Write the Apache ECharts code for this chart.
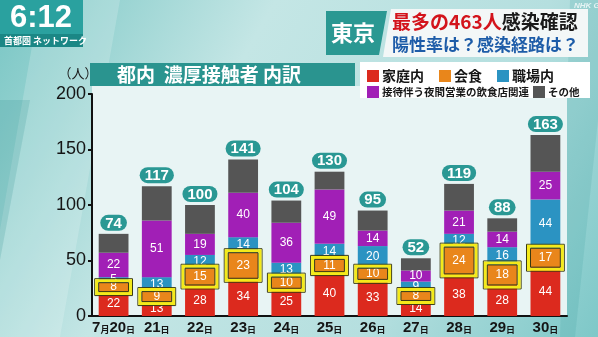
<!DOCTYPE html>
<html>
<head>
<meta charset="utf-8">
<script src="https://cdn.jsdelivr.net/npm/echarts@6/dist/echarts.min.js"></script>
<style>
  html, body { margin: 0; padding: 0; }
  #chart { width: 598px; height: 337px; }
</style>
</head>
<body>
<div id="chart"></div>
<script>
// 都内 濃厚接触者 内訳（7月20日〜30日）
const days = ['7月20日', '21日', '22日', '23日', '24日', '25日', '26日', '27日', '28日', '29日', '30日'];
const homeCases  = [22, 13, 28, 34, 25, 40, 33, 14, 38, 28, 44];
const dining     = [8, 9, 15, 23, 10, 11, 10, 8, 24, 18, 17];
const workplace  = [5, 13, 12, 14, 13, 14, 20, 9, 12, 16, 44];
const nightlife  = [22, 51, 19, 40, 36, 49, 14, 10, 21, 14, 25];
const other      = [17, 31, 26, 30, 20, 16, 18, 11, 24, 12, 33];
const totals     = [74, 117, 100, 141, 104, 130, 95, 52, 119, 88, 163];
const yTicks     = [0, 50, 100, 150, 200];

const JP = '"Noto Sans CJK JP", "Noto Sans", sans-serif';
const NUM = '"Liberation Sans", "DejaVu Sans", sans-serif';
const BAR_RATIO = 0.69;

const chart = echarts.init(document.getElementById('chart'), null, { renderer: 'canvas' });

const segLabel = {
  show: true,
  position: 'inside',
  color: '#ffffff',
  fontSize: 12,
  fontFamily: NUM
};

function barSeries(name, data, color, label) {
  return {
    name: name,
    type: 'bar',
    stack: 'total',
    barWidth: (BAR_RATIO * 100) + '%',
    data: data,
    itemStyle: { color: color },
    label: label,
    emphasis: { disabled: true },
    z: 2
  };
}

// highlight frames around the 会食 segment
const frameData = days.map((d, i) => [i, homeCases[i], homeCases[i] + dining[i]]);

const option = {
  animation: false,
  backgroundColor: {
    type: 'linear', x: 0, y: 0, x2: 1, y2: 1,
    colorStops: [
      { offset: 0, color: '#79c6c4' },
      { offset: 0.35, color: '#c4e6e5' },
      { offset: 0.7, color: '#b5dfdf' },
      { offset: 1, color: '#7ec8c8' }
    ]
  },
  graphic: [
    // soft diagonal light bands in the backdrop
    { type: 'polygon', z: -10, shape: { points: [[40, 0], [120, 0], [60, 337], [0, 337], [0, 230]] }, style: { fill: 'rgba(255,255,255,0.18)' } },
    { type: 'polygon', z: -10, shape: { points: [[0, 100], [30, 100], [0, 260]] }, style: { fill: 'rgba(40,140,140,0.18)' } },
    { type: 'polygon', z: -10, shape: { points: [[570, 0], [598, 0], [598, 120], [575, 337], [560, 337]] }, style: { fill: 'rgba(40,150,150,0.15)' } },
    // chart panel
    { type: 'rect', z: -5, shape: { x: 92, y: 86, width: 475, height: 230 }, style: { fill: '#e8f4f4' } },
    // clock
    { type: 'rect', shape: { x: 0, y: 0, width: 83, height: 34 }, style: { fill: '#2aa19f' } },
    { type: 'text', style: { text: '6:12', x: 41, y: 18, align: 'center', verticalAlign: 'middle', fill: '#ffffff', font: 'bold 31px ' + NUM } },
    { type: 'rect', shape: { x: 0, y: 34, width: 83, height: 13 }, style: { fill: '#1b8785' } },
    { type: 'text', style: { text: '首都圏 ネットワーク', x: 4, y: 41, verticalAlign: 'middle', fill: '#ffffff', font: 'bold 9px ' + JP } },
    // headline
    { type: 'polygon', shape: { points: [[326, 11], [387, 11], [379, 55], [326, 55]] }, style: { fill: '#2a9892' } },
    { type: 'text', style: { text: '東京', x: 353, y: 33, align: 'center', verticalAlign: 'middle', fill: '#ffffff', font: 'bold 22px ' + JP } },
    { type: 'polygon', shape: { points: [[391, 9], [588, 9], [588, 57], [383, 57]] }, style: { fill: '#f3f7f7' } },
    { type: 'text', style: {
        text: '{r|最多の463人}{k|感染確認}', x: 392, y: 22, verticalAlign: 'middle',
        rich: {
          r: { fill: '#d3141c', font: 'bold 19px ' + JP },
          k: { fill: '#1a1a1a', font: 'bold 19px ' + JP }
        }
      } },
    { type: 'text', style: { text: '陽性率は？感染経路は？', x: 392, y: 45, verticalAlign: 'middle', fill: '#1d5ca8', font: 'bold 17px ' + JP } },
    { type: 'text', style: { text: 'NHK G', x: 574, y: 6, verticalAlign: 'middle', fill: 'rgba(255,255,255,0.75)', font: 'italic bold 8px ' + NUM } },
    // chart title bar
    { type: 'rect', shape: { x: 90, y: 63, width: 265, height: 23 }, style: { fill: '#2a948f' } },
    { type: 'text', style: { text: '都内  濃厚接触者 内訳', x: 117, y: 75, verticalAlign: 'middle', fill: '#ffffff', font: 'bold 19px ' + JP } },
    // legend box
    { type: 'rect', z: -1, shape: { x: 360, y: 62, width: 230, height: 36 }, style: { fill: '#ffffff' } },
    // unit
    { type: 'text', style: { text: '（人）', x: 78, y: 73, align: 'center', verticalAlign: 'middle', fill: '#1a1a1a', font: '13px ' + JP } }
  ],
  legend: [
    {
      data: ['家庭内', '会食', '職場内'],
      left: 362, top: 64,
      icon: 'rect', itemWidth: 12, itemHeight: 12, itemGap: 15,
      textStyle: { fontSize: 14, fontFamily: JP, fontWeight: 'bold', color: '#151515', padding: [0, 0, 0, -2] },
      selectedMode: false
    },
    {
      data: ['接待伴う夜間営業の飲食店関連', 'その他'],
      left: 362, top: 81,
      icon: 'rect', itemWidth: 12, itemHeight: 12, itemGap: 4,
      textStyle: { fontSize: 10.5, fontFamily: JP, fontWeight: 'bold', color: '#151515', padding: [0, 0, 0, -2] },
      selectedMode: false
    }
  ],
  grid: { left: 92, right: 31, top: 94, bottom: 21 },
  xAxis: {
    type: 'category',
    data: days,
    axisLine: { lineStyle: { color: '#111111', width: 2 } },
    axisTick: { show: false },
    axisLabel: {
      margin: 4,
      interval: 0,
      formatter: v => v.replace(/(\d+)/g, '{n|$1}').replace(/([月日])/g, '{s|$1}'),
      rich: {
        n: { fontSize: 15, fontFamily: NUM, color: '#151515', fontWeight: 'bold' },
        s: { fontSize: 9, fontFamily: JP, color: '#151515', fontWeight: 'bold', padding: [4, 0, 0, 0] }
      }
    }
  },
  yAxis: {
    type: 'value',
    min: yTicks[0], max: yTicks[yTicks.length - 1], interval: 50,
    axisLine: { show: true, lineStyle: { color: '#111111', width: 2 } },
    axisTick: { show: true, length: 4, lineStyle: { color: '#111111', width: 2 } },
    splitLine: { show: false },
    axisLabel: { fontSize: 18, fontFamily: NUM, color: '#151515', margin: 6 }
  },
  series: [
    barSeries('家庭内', homeCases, '#dc2a1e', segLabel),
    barSeries('会食', dining, '#e9861b', segLabel),
    barSeries('職場内', workplace, '#2b93c2', segLabel),
    barSeries('接待伴う夜間営業の飲食店関連', nightlife, '#a11fb6', segLabel),
    barSeries('その他', other, '#555555', {
      show: true,
      position: 'top',
      distance: 3,
      formatter: p => String(totals[p.dataIndex]),
      color: '#ffffff',
      fontSize: 15,
      fontWeight: 'bold',
      fontFamily: NUM,
      backgroundColor: '#2a9894',
      borderRadius: 8,
      padding: [1, 5, 0, 5],
      lineHeight: 15
    }),
    {
      type: 'custom',
      name: 'frame',
      data: frameData,
      z: 5,
      silent: true,
      renderItem: function (params, api) {
        const idx = api.value(0);
        const lo = api.coord([idx, api.value(1)]);
        const hi = api.coord([idx, api.value(2)]);
        const w = api.size([1, 0])[0] * BAR_RATIO;
        const x = lo[0] - w / 2;
        const y = hi[1];
        const h = lo[1] - hi[1];
        const pad = 4;
        return {
          type: 'group',
          children: [
            { type: 'rect', shape: { x: x - pad, y: y - pad, width: w + pad * 2, height: h + pad * 2 },
              style: { fill: null, stroke: '#3a3a10', lineWidth: 1 } },
            { type: 'rect', shape: { x: x - pad + 2, y: y - pad + 2, width: w + pad * 2 - 4, height: h + pad * 2 - 4 },
              style: { fill: null, stroke: '#f4ea1a', lineWidth: 3 } },
            { type: 'rect', shape: { x: x - pad + 4, y: y - pad + 4, width: w + pad * 2 - 8, height: h + pad * 2 - 8 },
              style: { fill: null, stroke: '#3a3a10', lineWidth: 1 } }
          ]
        };
      }
    }
  ]
};

chart.setOption(option);
</script>
</body>
</html>
